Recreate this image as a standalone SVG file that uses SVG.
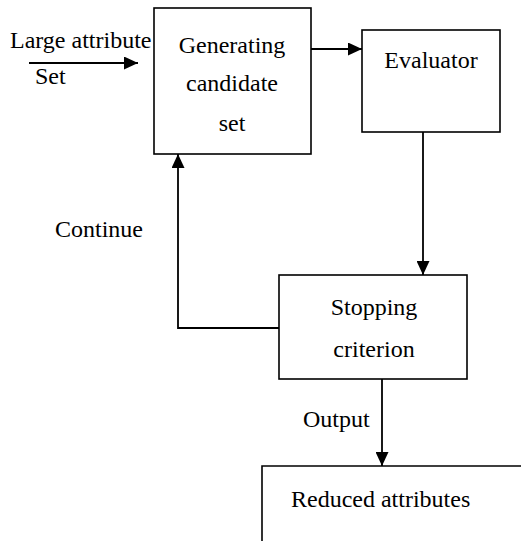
<svg xmlns="http://www.w3.org/2000/svg" width="521" height="541" viewBox="0 0 521 541">
<style>
.box{fill:#fff;stroke:#000;stroke-width:1.6}
.ln{fill:none;stroke:#000;stroke-width:1.8}
text{font-family:'Liberation Serif','Times New Roman',serif;font-size:24px;fill:#000}
.c{text-anchor:middle}
</style>
<defs>
<marker id="ah" viewBox="0 0 14 13" refX="14" refY="6.5" markerWidth="14" markerHeight="13" markerUnits="userSpaceOnUse" orient="auto">
<path d="M0,0 L14,6.5 L0,13 Z" fill="#000"/>
</marker>
</defs>
<rect width="521" height="541" fill="#fff"/>
<g id="connectors">
<line class="ln" x1="29" y1="63" x2="138" y2="63" marker-end="url(#ah)"/>
<line class="ln" x1="311" y1="49" x2="362" y2="49" marker-end="url(#ah)"/>
<line class="ln" x1="423" y1="132" x2="423" y2="275" marker-end="url(#ah)"/>
<polyline class="ln" points="279,328 178,328 178,154" marker-end="url(#ah)"/>
<line class="ln" x1="382" y1="379" x2="382" y2="466" marker-end="url(#ah)"/>
</g>
<g id="input-label">
<text x="10" y="48">Large attribute</text>
<text x="35" y="84">Set</text>
</g>
<g id="generating">
<rect class="box" x="154" y="8" width="157" height="146"/>
<text class="c" x="232" y="53">Generating</text>
<text class="c" x="232" y="91">candidate</text>
<text class="c" x="232" y="131">set</text>
</g>
<g id="evaluator">
<rect class="box" x="362" y="30" width="138" height="102"/>
<text class="c" x="431" y="68">Evaluator</text>
</g>
<g id="continue-label">
<text x="55" y="237">Continue</text>
</g>
<g id="stopping">
<rect class="box" x="279" y="275" width="188" height="104"/>
<text class="c" x="374" y="315">Stopping</text>
<text class="c" x="374" y="357">criterion</text>
</g>
<g id="output-label">
<text x="303" y="427">Output</text>
</g>
<g id="reduced">
<path class="box" d="M262,541 L262,466 L521,466" fill="none"/>
<text x="291" y="507">Reduced attributes</text>
</g>
</svg>
